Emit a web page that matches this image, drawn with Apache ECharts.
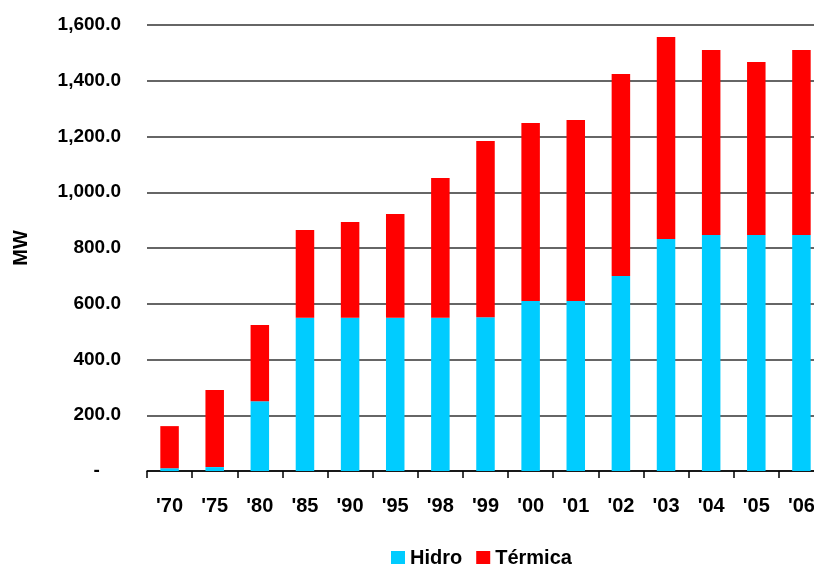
<!DOCTYPE html>
<html>
<head>
<meta charset="utf-8">
<title>Capacidad instalada (MW)</title>
<script src="https://cdn.jsdelivr.net/npm/echarts@6/dist/echarts.min.js"></script>
<style>
  html, body { margin: 0; padding: 0; background: #ffffff; }
  #chart { width: 814px; height: 564px; }
</style>
</head>
<body>
<div id="chart"></div>
<script>
// Installed capacity by year, MW
const years = ["'70", "'75", "'80", "'85", "'90", "'95", "'98", "'99", "'00", "'01", "'02", "'03", "'04", "'05", "'06"];
const hidro = [10, 14, 250, 550, 550, 550, 550, 552, 610, 610, 700, 832, 847, 847, 847];
const totalCapacity = [161, 291, 524, 865, 893, 922, 1051, 1184, 1248, 1259, 1424, 1557, 1510, 1467, 1510];
const termica = totalCapacity.map((t, i) => t - hidro[i]);
const yTicks = [0, 200, 400, 600, 800, 1000, 1200, 1400, 1600];

const FONT = '"Liberation Sans", Arial, sans-serif';

function fmtMW(v) {
  if (v === 0) return '-    ';
  return v.toLocaleString('en-US', { minimumFractionDigits: 1, maximumFractionDigits: 1 });
}

const chart = echarts.init(document.getElementById('chart'), null, { renderer: 'canvas' });
chart.setOption({
  backgroundColor: '#ffffff',
  animation: false,
  // the last category runs past the right edge of the canvas
  grid: { left: 147, top: 25, width: 677, height: 446, outerBoundsMode: 'none' },
  legend: {
    data: ['Hidro', 'Térmica'],
    left: 391,
    top: 548,
    padding: 0,
    icon: 'rect',
    itemWidth: 14,
    itemHeight: 14,
    itemGap: 14,
    textStyle: { fontFamily: FONT, fontSize: 20, fontWeight: 'bold', color: '#000' }
  },
  xAxis: {
    type: 'category',
    data: years,
    axisLine: { show: true, lineStyle: { color: '#000', width: 1.5 } },
    axisTick: { show: true, length: 7, lineStyle: { color: '#000', width: 1.5 } },
    axisLabel: { margin: 25, fontFamily: FONT, fontSize: 20, fontWeight: 'bold', color: '#000' }
  },
  yAxis: {
    type: 'value',
    min: yTicks[0],
    max: yTicks[yTicks.length - 1],
    interval: yTicks[1] - yTicks[0],
    name: 'MW',
    nameLocation: 'middle',
    nameGap: 116,
    nameRotate: 90,
    nameTextStyle: { fontFamily: FONT, fontSize: 20, fontWeight: 'bold', color: '#000' },
    axisLine: { show: false },
    axisTick: { show: false },
    splitLine: { show: true, lineStyle: { color: '#333', width: 1.5 } },
    axisLabel: {
      margin: 26,
      fontFamily: FONT, fontSize: 19, fontWeight: 'bold', color: '#000',
      formatter: fmtMW
    }
  },
  series: [
    {
      name: 'Hidro',
      type: 'bar',
      stack: 'mw',
      barWidth: '41%',
      itemStyle: { color: '#00CCFF' },
      data: hidro
    },
    {
      name: 'Térmica',
      type: 'bar',
      stack: 'mw',
      barWidth: '41%',
      itemStyle: { color: '#FF0000' },
      data: termica
    }
  ]
});
</script>
</body>
</html>
